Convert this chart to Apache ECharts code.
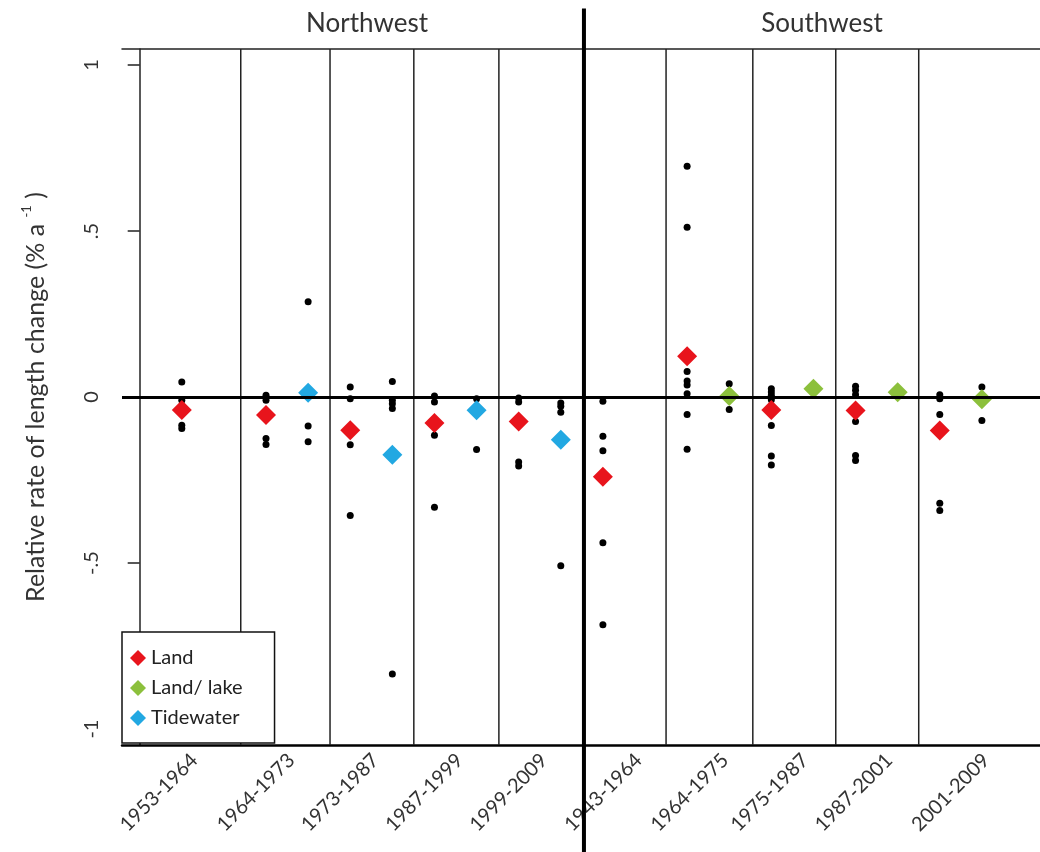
<!DOCTYPE html>
<html>
<head>
<meta charset="utf-8">
<script src="https://cdn.jsdelivr.net/npm/echarts@6/dist/echarts.min.js"></script>
<style>
  html, body { margin: 0; padding: 0; background: #fff; }
  #chart { width: 1040px; height: 852px; }
</style>
</head>
<body>
<div id="chart"></div>
<script>
// Survey periods, one panel each (first five Northwest, last five Southwest)
const periods = ['1953-1964', '1964-1973', '1973-1987', '1987-1999', '1999-2009',
                 '1943-1964', '1964-1975', '1975-1987', '1987-2001', '2001-2009'];
const regions = ['Northwest', 'Southwest'];

// Mean relative rate of length change per period (% a^-1); null = no glaciers of that type
const landMean      = [-0.039, -0.054, -0.100, -0.078, -0.074, -0.240, 0.123, -0.039, -0.041, -0.101];
const landLakeMean  = [null, null, null, null, null, null, 0.003, 0.025, 0.014, -0.007];
const tidewaterMean = [null, 0.013, -0.174, -0.040, -0.129, null, null, null, null, null];

// Individual glaciers per period
const landGlaciers = [
  [0.045, -0.010, -0.085, -0.095],
  [0.005, -0.010, -0.125, -0.143],
  [0.030, -0.005, -0.144, -0.357],
  [0.003, -0.015, -0.115, -0.332],
  [-0.003, -0.015, -0.196, -0.208],
  [-0.013, -0.118, -0.162, -0.439, -0.686],
  [0.695, 0.511, 0.077, 0.048, 0.036, 0.010, -0.053, -0.157],
  [0.025, 0.015, 0.005, -0.008, -0.086, -0.178, -0.205],
  [0.032, 0.020, 0.007, -0.074, -0.176, -0.191],
  [0.007, -0.005, -0.053, -0.320, -0.342]
];
const landLakeGlaciers = [[], [], [], [], [], [], [0.040, -0.038], [], [], [0.030, -0.071]];
const tidewaterGlaciers = [
  [], [0.287, -0.087, -0.135], [0.047, -0.010, -0.020, -0.035, -0.834],
  [-0.005, -0.158], [-0.018, -0.028, -0.046, -0.508], [], [], [], [], []
];

const yTicks = [-1, -0.5, 0, 0.5, 1];
const yTickLabels = ['-1', '-.5', '0', '.5', '1'];

// ---- layout (x measured in column slots) ----
const xMin = -0.42, xMax = 21.38;
const yMin = -1.048, yMax = 1.048;
const landSlot = i => 2 * i + 1;      // land column in each panel
const otherSlot = i => 2 * i + 2;     // land/lake or tidewater column
const panelEdges = [2.4, 4.52, 6.51, 8.53, 12.5, 14.56, 16.53, 18.5];
const regionEdge = 10.55;
const periodLabelPos = [1.3, 3.6, 5.6, 7.6, 9.6, 11.85, 13.9, 15.8, 17.8, 20.1];

const FONT = 'Lato';
const RED = '#e8141c', GREEN = '#8cc03c', BLUE = '#22a8e2';

function meanPoints(means, slotFn) {
  const out = [];
  means.forEach((v, i) => { if (v !== null) out.push([slotFn(i), v]); });
  return out;
}
function glacierPoints() {
  const out = [];
  landGlaciers.forEach((arr, i) => arr.forEach(v => out.push([landSlot(i), v])));
  landLakeGlaciers.forEach((arr, i) => arr.forEach(v => out.push([otherSlot(i), v])));
  tidewaterGlaciers.forEach((arr, i) => arr.forEach(v => out.push([otherSlot(i), v])));
  return out;
}
const edgeData = panelEdges.map(x => [x, 0]).concat([[regionEdge, 1]]);

const chart = echarts.init(document.getElementById('chart'), null, { renderer: 'canvas' });

chart.setOption({
  backgroundColor: '#fff',
  animation: false,
  textStyle: { fontFamily: FONT },
  title: [
    { text: regions[0], left: 362, top: 6, textAlign: 'center',
      textStyle: { fontFamily: FONT, fontSize: 26, fontWeight: 'normal', color: '#333' } },
    { text: regions[1], left: 817, top: 6, textAlign: 'center',
      textStyle: { fontFamily: FONT, fontSize: 26, fontWeight: 'normal', color: '#333' } }
  ],
  grid: { left: 122, right: 0, top: 49, bottom: 107, containLabel: false },
  xAxis: [
    {
      type: 'value', min: xMin, max: xMax, position: 'bottom',
      axisLine: { show: true, onZero: false, lineStyle: { color: '#000', width: 2.5 } },
      axisTick: { show: false },
      splitLine: { show: false },
      axisLabel: {
        customValues: periodLabelPos,
        rotate: 45, margin: 12, fontSize: 20, color: '#333', fontFamily: FONT,
        formatter: v => {
          const k = periodLabelPos.findIndex(p => Math.abs(p - v) < 1e-6);
          return k >= 0 ? periods[k] : '';
        }
      }
    },
    {
      type: 'value', min: xMin, max: xMax, position: 'top',
      axisLine: { show: true, onZero: false, lineStyle: { color: '#222', width: 1.5 } },
      axisTick: { show: false }, axisLabel: { show: false }, splitLine: { show: false }
    }
  ],
  yAxis: {
    type: 'value', min: yMin, max: yMax,
    axisLine: { show: true, lineStyle: { color: '#222', width: 1.5 } },
    axisTick: { show: true, customValues: yTicks, length: 12, lineStyle: { color: '#222', width: 1.5 } },
    splitLine: { show: false },
    axisLabel: {
      customValues: yTicks, rotate: 90, margin: 20, fontSize: 20, color: '#333', fontFamily: FONT,
      formatter: v => {
        const k = yTicks.findIndex(t => Math.abs(t - v) < 1e-6);
        return k >= 0 ? yTickLabels[k] : '';
      }
    },
    name: '{t|Relative rate of length change (% a }{s|-1}{t| )}',
    nameLocation: 'middle', nameRotate: 90, nameGap: 70,
    nameTextStyle: {
      rich: {
        t: { fontFamily: FONT, fontSize: 25, color: '#333', lineHeight: 32 },
        s: { fontFamily: FONT, fontSize: 13, color: '#333', verticalAlign: 'top', lineHeight: 32 }
      }
    }
  },
  legend: {
    data: ['Land', 'Land/ lake', 'Tidewater'],
    orient: 'vertical', left: 122, top: 632,
    backgroundColor: '#fff', borderColor: '#111', borderWidth: 1.5,
    padding: [16, 32, 15, 8],
    itemWidth: 16, itemHeight: 16, itemGap: 10,
    icon: 'diamond',
    itemStyle: { opacity: 1 },
    textStyle: { fontFamily: FONT, fontSize: 20, color: '#222' }
  },
  series: [
    {
      name: 'edges', type: 'custom', clip: false, z: 1, silent: true,
      data: edgeData,
      renderItem: (params, api) => {
        const x = api.value(0);
        const thick = api.value(1) === 1;
        const p1 = api.coord([x, thick ? 1.17 : yMax]);
        const p2 = api.coord([x, thick ? -1.4 : yMin]);
        return {
          type: 'line',
          shape: { x1: p1[0], y1: p1[1], x2: p2[0], y2: p2[1] },
          style: { stroke: thick ? '#000' : '#222', lineWidth: thick ? 4 : 1.5 }
        };
      },
      markLine: {
        silent: true, symbol: 'none', label: { show: false },
        lineStyle: { color: '#000', width: 3, type: 'solid' },
        data: [{ yAxis: 0 }]
      }
    },
    {
      name: 'Glaciers', type: 'scatter', z: 3,
      symbol: 'circle', symbolSize: 7,
      itemStyle: { color: '#000', opacity: 1 },
      data: glacierPoints()
    },
    {
      name: 'Land', type: 'scatter', z: 4, symbol: 'diamond', symbolSize: 20,
      itemStyle: { color: RED, opacity: 1 }, data: meanPoints(landMean, landSlot)
    },
    {
      name: 'Land/ lake', type: 'scatter', z: 4, symbol: 'diamond', symbolSize: 20,
      itemStyle: { color: GREEN, opacity: 1 }, data: meanPoints(landLakeMean, otherSlot)
    },
    {
      name: 'Tidewater', type: 'scatter', z: 4, symbol: 'diamond', symbolSize: 20,
      itemStyle: { color: BLUE, opacity: 1 }, data: meanPoints(tidewaterMean, otherSlot)
    }
  ]
});
</script>
</body>
</html>
